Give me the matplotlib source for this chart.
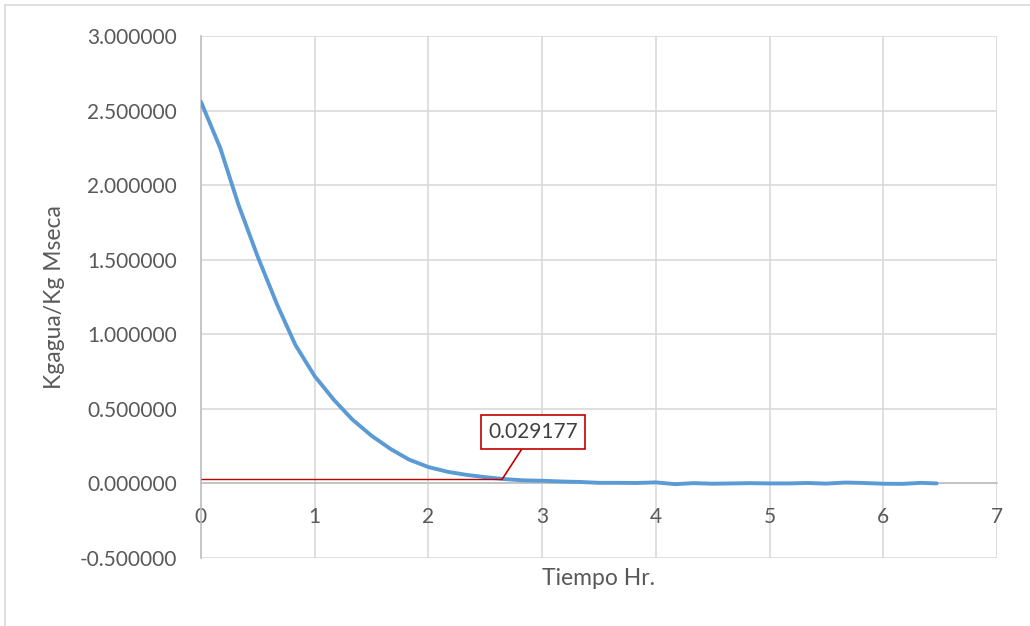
import matplotlib.pyplot as plt
from matplotlib.lines import Line2D
from matplotlib.ticker import FormatStrFormatter

# Tiempo (hr) y humedad (kg agua / kg materia seca)
tiempo = [0.00, 0.17, 0.33, 0.50, 0.67, 0.83, 1.00, 1.17, 1.33, 1.50,
          1.67, 1.83, 2.00, 2.17, 2.33, 2.50, 2.67, 2.83, 3.00, 3.17,
          3.33, 3.50, 3.67, 3.83, 4.00, 4.17, 4.33, 4.50, 4.67, 4.83,
          5.00, 5.17, 5.33, 5.50, 5.67, 5.83, 6.00, 6.17, 6.33, 6.47]
humedad = [2.560, 2.250, 1.870, 1.520, 1.200, 0.930, 0.720, 0.560, 0.430, 0.320,
           0.230, 0.160, 0.110, 0.078, 0.058, 0.042, 0.029, 0.021, 0.018, 0.013,
           0.010, 0.004, 0.004, 0.003, 0.007, -0.005, 0.002, -0.002, 0.000, 0.002,
           0.000, 0.000, 0.003, -0.001, 0.006, 0.003, -0.002, -0.003, 0.004, 0.000]

marca_valor = 0.029177
marca_x = 2.65
marca_texto = "0.029177"

xticks = [0, 1, 2, 3, 4, 5, 6, 7]
yticks = [-0.5, 0.0, 0.5, 1.0, 1.5, 2.0, 2.5, 3.0]

plt.rcParams['font.family'] = ['Lato', 'DejaVu Sans']
gris = '#595959'

fig = plt.figure(figsize=(10.30, 6.26), dpi=100)
ax = fig.add_axes([0.195, 0.1086, 0.773, 0.834])

ax.plot(tiempo, humedad, color='#5b9bd5', linewidth=2.8, solid_capstyle='round',
        solid_joinstyle='round', zorder=3)

# linea de referencia y etiqueta
ax.hlines(marca_valor, 0, marca_x, color='#c00000', linewidth=1.0, zorder=4)
ax.annotate(marca_texto, xy=(marca_x, marca_valor), xytext=(2.92, 0.346),
            ha='center', va='center', fontsize=15, color='#404040',
            bbox=dict(boxstyle='square,pad=0.33', fc='white', ec='#c00000', lw=1.2),
            arrowprops=dict(arrowstyle='-', color='#c00000', lw=1.2,
                            shrinkA=0, shrinkB=0), zorder=5)

ax.set_xlim(0, 7)
ax.set_ylim(-0.5, 3.0)
ax.set_xticks(xticks)
ax.set_yticks(yticks)
ax.yaxis.set_major_formatter(FormatStrFormatter('%.6f'))
ax.grid(True, color='#d9d9d9', linewidth=1.2)
ax.set_axisbelow(True)

for s in ['top', 'right']:
    ax.spines[s].set_visible(False)
ax.spines['left'].set_color('#bfbfbf')
ax.spines['left'].set_linewidth(1.2)
ax.spines['bottom'].set_position(('data', 0))
ax.spines['bottom'].set_color('#bfbfbf')
ax.spines['bottom'].set_linewidth(1.2)
ax.tick_params(length=0, labelsize=15, labelcolor=gris, pad=17)

ax.set_xlabel('Tiempo Hr.', fontsize=16.5, color=gris)
ax.xaxis.set_label_coords(0.5, -0.02)
ax.set_ylabel('Kgagua/Kg Mseca', fontsize=16.5, color=gris)
ax.yaxis.set_label_coords(-0.171, 0.5)

# borde del area del grafico
fig.add_artist(Line2D([5/1030, 1], [1-5/626, 1-5/626], color='#d9d9d9', lw=1.2))
fig.add_artist(Line2D([5/1030, 5/1030], [0, 1-5/626], color='#d9d9d9', lw=1.2))

fig.savefig('out.png', dpi=100)
